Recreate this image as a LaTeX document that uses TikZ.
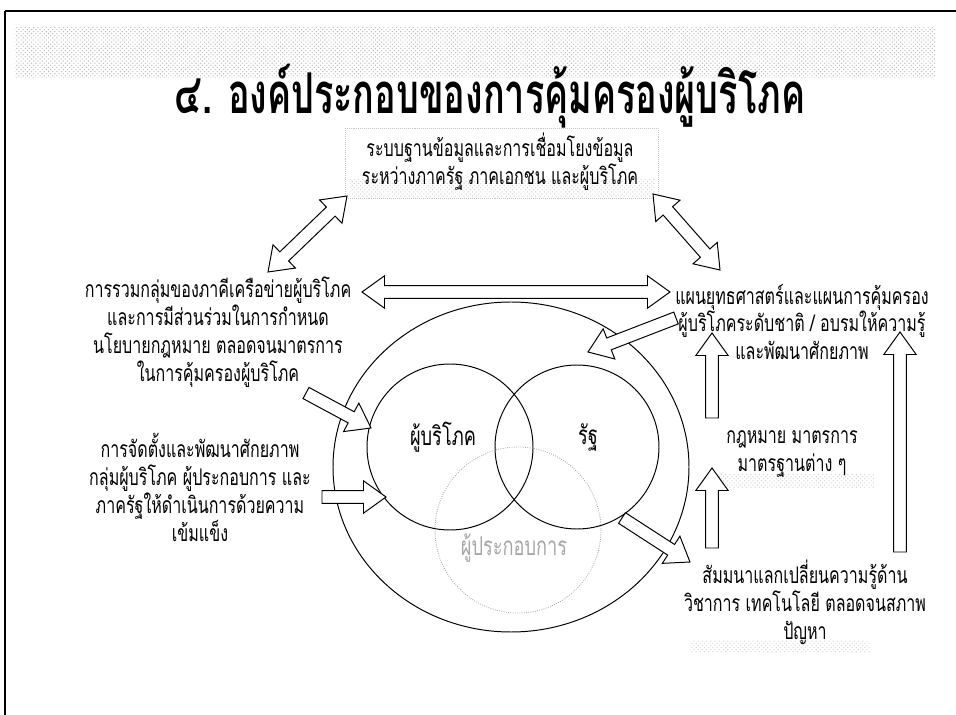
\documentclass[tikz,border=0pt]{standalone}
\usepackage{fontspec}
\newfontfamily\thaifont[Script=Thai,FakeStretch=0.70]{Loma}
\newfontfamily\thaititle[Script=Thai,FakeStretch=0.64]{Loma}
\usetikzlibrary{calc,patterns}

%% block arrow sizes
\newcommand{\sw}{4.5pt}
\newcommand{\hw}{11.5pt}
\newcommand{\hl}{16pt}

%% hollow arrow, tail #1, tip #2
\newcommand{\sglarrow}[2]{%
  \draw[blockarrow] ($(#1)!\sw!90:(#2)$)
    -- ($(#2)!\hl!(#1)!\sw!90:(#2)$) -- ($(#2)!\hl!(#1)!\hw!90:(#2)$)
    -- (#2)
    -- ($(#2)!\hl!(#1)!\hw!-90:(#2)$) -- ($(#2)!\hl!(#1)!\sw!-90:(#2)$)
    -- ($(#1)!\sw!-90:(#2)$) -- cycle;}
%% hollow arrow, heads at both ends
\newcommand{\dblarrow}[2]{%
  \draw[blockarrow] (#1)
    -- ($(#1)!\hl!(#2)!\hw!90:(#2)$) -- ($(#1)!\hl!(#2)!\sw!90:(#2)$)
    -- ($(#2)!\hl!(#1)!\sw!90:(#2)$) -- ($(#2)!\hl!(#1)!\hw!90:(#2)$)
    -- (#2)
    -- ($(#2)!\hl!(#1)!\hw!-90:(#2)$) -- ($(#2)!\hl!(#1)!\sw!-90:(#2)$)
    -- ($(#1)!\hl!(#2)!\sw!-90:(#2)$) -- ($(#1)!\hl!(#2)!\hw!-90:(#2)$)
    -- cycle;}

\tikzset{
  txt/.style={font=\thaifont\fontsize{16.3pt}{19.9pt}\selectfont, align=center, inner sep=0pt},
  big/.style={font=\thaifont\fontsize{18.5pt}{20pt}\selectfont},
  blockarrow/.style={draw=black, fill=white, line width=0.7pt, line join=miter},
  speckle/.style={pattern=crosshatch dots, pattern color=gray!55},
  ring/.style={draw=black, line width=0.7pt},
}

\begin{document}
\begin{tikzpicture}[x=0.025cm, y=-0.025cm]
  \useasboundingbox (0,0) rectangle (956,715);

  %% page frame and title band
  \draw[line width=0.9pt] (5,715) -- (5,11);
  \draw[line width=1.4pt] (5,11) -- (956,11);
  \fill[speckle] (15,28) rectangle (935,78);
  \node[font=\thaititle\bfseries\fontsize{40pt}{44pt}\selectfont] (title) at (490,96)
    {๔. องค์ประกอบของการคุ้มครองผู้บริโภค};

  %% database box
  \fill[speckle, pattern color=gray!35] (350,180) rectangle (655,198);
  \draw[gray!45, densely dotted] (345,128) rectangle (658,198);
  \node[txt] (database) at (500,162)
    {ระบบฐานข้อมูลและการเชื่อมโยงข้อมูล\\ระหว่างภาครัฐ ภาคเอกชน และผู้บริโภค};

  %% left texts
  \node[txt] (network) at (218,332)
    {การรวมกลุ่มของภาคีเครือข่ายผู้บริโภค\\และการมีส่วนร่วมในการกำหนด\\นโยบายกฎหมาย ตลอดจนมาตรการ\\ในการคุ้มครองผู้บริโภค};
  \node[txt] (group) at (200,487)
    {การจัดตั้งและพัฒนาศักยภาพ\\กลุ่มผู้บริโภค ผู้ประกอบการ และ\\ภาครัฐให้ดำเนินการด้วยความ\\เข้มแข็ง};

  %% right texts
  \node[txt] (plan) at (802,322)
    {แผนยุทธศาสตร์และแผนการคุ้มครอง\\ผู้บริโภคระดับชาติ / อบรมให้ความรู้\\และพัฒนาศักยภาพ};
  \fill[speckle, pattern color=gray!35] (718,474) rectangle (875,488);
  \node[txt] (law) at (792,454) {กฎหมาย มาตรการ\\มาตรฐานต่าง ๆ};
  \fill[speckle, pattern color=gray!30] (690,640) rectangle (870,652);
  \node[txt] (seminar) at (805,602)
    {สัมมนาแลกเปลี่ยนความรู้ด้าน\\วิชาการ เทคโนโลยี ตลอดจนสภาพ\\ปัญหา};

  %% the three parties
  \draw[ring] (511,467) ellipse [x radius=178, y radius=165];
  \draw[ring] (450,447) circle [radius=83];
  \draw[ring] (577,447) circle [radius=82];
  \draw[gray!70, densely dotted, line width=0.6pt] (518,530) circle [radius=83];
  \node[txt, big] (consumer) at (443,437) {ผู้บริโภค};
  \node[txt, big] (state) at (588,437) {รัฐ};
  \node[txt, big, text=gray!70] (operator) at (514,548) {ผู้ประกอบการ};

  %% arrow ends
  \coordinate (dbL) at (347,196);  \coordinate (netT) at (268,272);
  \coordinate (dbR) at (653,194);  \coordinate (planT) at (720,270);
  \coordinate (netR) at (362,292); \coordinate (planL) at (670,292);
  \coordinate (planO) at (676,318); \coordinate (stateI) at (588,352);
  \coordinate (netO) at (306,393); \coordinate (consI) at (371,428);
  \coordinate (groupO) at (322,497); \coordinate (ringI) at (386,497);
  \coordinate (ringO) at (622,518); \coordinate (semI) at (690,562);
  \coordinate (lawT) at (712,418); \coordinate (planB) at (712,333);
  \coordinate (semT) at (712,548); \coordinate (lawB) at (712,468);
  \coordinate (semR) at (900,552); \coordinate (planR) at (900,332);

  %% hollow arrows
  \dblarrow{dbL}{netT}
  \dblarrow{dbR}{planT}
  \dblarrow{netR}{planL}
  \sglarrow{planO}{stateI}
  \sglarrow{netO}{consI}
  \sglarrow{groupO}{ringI}
  \sglarrow{ringO}{semI}
  \sglarrow{lawT}{planB}
  \sglarrow{semT}{lawB}
  \sglarrow{semR}{planR}
\end{tikzpicture}
\end{document}
